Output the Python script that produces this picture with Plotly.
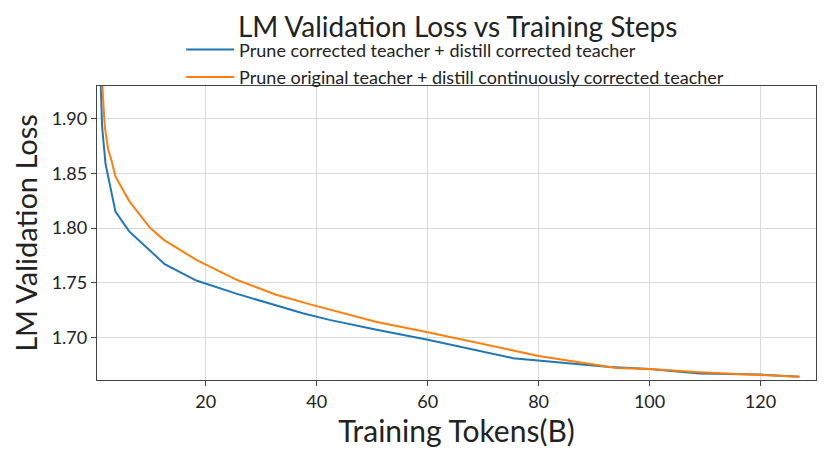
import plotly.graph_objects as go

# tokens (B) and validation loss
tokens_a = [0.9, 1.32, 1.93, 3.73, 6.2, 10.1, 12.6, 18.3, 25.5, 37.5, 42.3, 50.8,
            59.8, 75.4, 79.6, 92.8, 100.0, 109.0, 119.8, 127.0]
loss_a = [1.960, 1.893, 1.859, 1.815, 1.797, 1.779, 1.767, 1.752, 1.740, 1.722, 1.716, 1.707,
          1.698, 1.681, 1.679, 1.673, 1.671, 1.667, 1.666, 1.664]

tokens_b = [1.0, 1.8, 2.4, 3.0, 3.73, 6.3, 10.0, 12.5, 18.3, 25.4, 32.7, 39.0, 50.8,
            59.8, 75.4, 80.0, 94.0, 100.0, 109.0, 119.8, 127.0]
loss_b = [1.960, 1.893, 1.872, 1.862, 1.847, 1.824, 1.800, 1.789, 1.771, 1.753, 1.739, 1.730, 1.714,
          1.705, 1.688, 1.683, 1.672, 1.671, 1.668, 1.666, 1.664]

name_a = "Prune corrected teacher + distill corrected teacher"
name_b = "Prune original teacher + distill continuously corrected teacher"

x_ticks = [20, 40, 60, 80, 100, 120]
y_ticks = [1.70, 1.75, 1.80, 1.85, 1.90]

FONT = "Lato, Open Sans, sans-serif"

fig = go.Figure()
fig.add_trace(go.Scatter(x=tokens_a, y=loss_a, mode="lines", name=name_a, legendgroup="a",
                         line=dict(color="#1f77b4", width=2)))
fig.add_trace(go.Scatter(x=tokens_b, y=loss_b, mode="lines", name=name_b, legendgroup="b",
                         line=dict(color="#ff7f0e", width=2)))

axis_common = dict(showgrid=True, gridcolor="#d9d9d9", gridwidth=1,
                   showline=True, linecolor="#444444", linewidth=1.3, mirror=True,
                   ticks="outside", ticklen=5, tickcolor="#444444",
                   tickfont=dict(size=18, color="#222222", family=FONT),
                   zeroline=False, automargin=False)

fig.update_xaxes(range=[0.4, 130], tickvals=x_ticks,
                 title=dict(text="Training Tokens(B)", font=dict(size=30, color="#222222", family=FONT), standoff=3),
                 **axis_common)
fig.update_yaxes(range=[1.661, 1.930], tickvals=y_ticks, tickformat=".2f",
                 title=dict(text="LM Validation Loss", font=dict(size=29, color="#222222", family=FONT), standoff=8),
                 **axis_common)

# page body adds an 8px offset, so the figure is drawn 8px smaller than the window
fig.update_layout(
    width=822, height=453,
    paper_bgcolor="white", plot_bgcolor="white",
    margin=dict(l=89, r=14, t=78, b=81, autoexpand=False),
    font=dict(family=FONT, color="#222222"),
    title=dict(text="LM Validation Loss vs Training Steps", x=0.547, xanchor="center",
               y=0.957, yanchor="middle", font=dict(size=28, color="#222222", family=FONT)),
    legend=dict(x=0.117, y=1.186, xanchor="left", yanchor="top", bgcolor="rgba(0,0,0,0)",
                itemwidth=48, traceorder="grouped", tracegroupgap=1,
                font=dict(size=18, color="#222222", family=FONT)),
    showlegend=True,
)

fig.write_html("out.html")
